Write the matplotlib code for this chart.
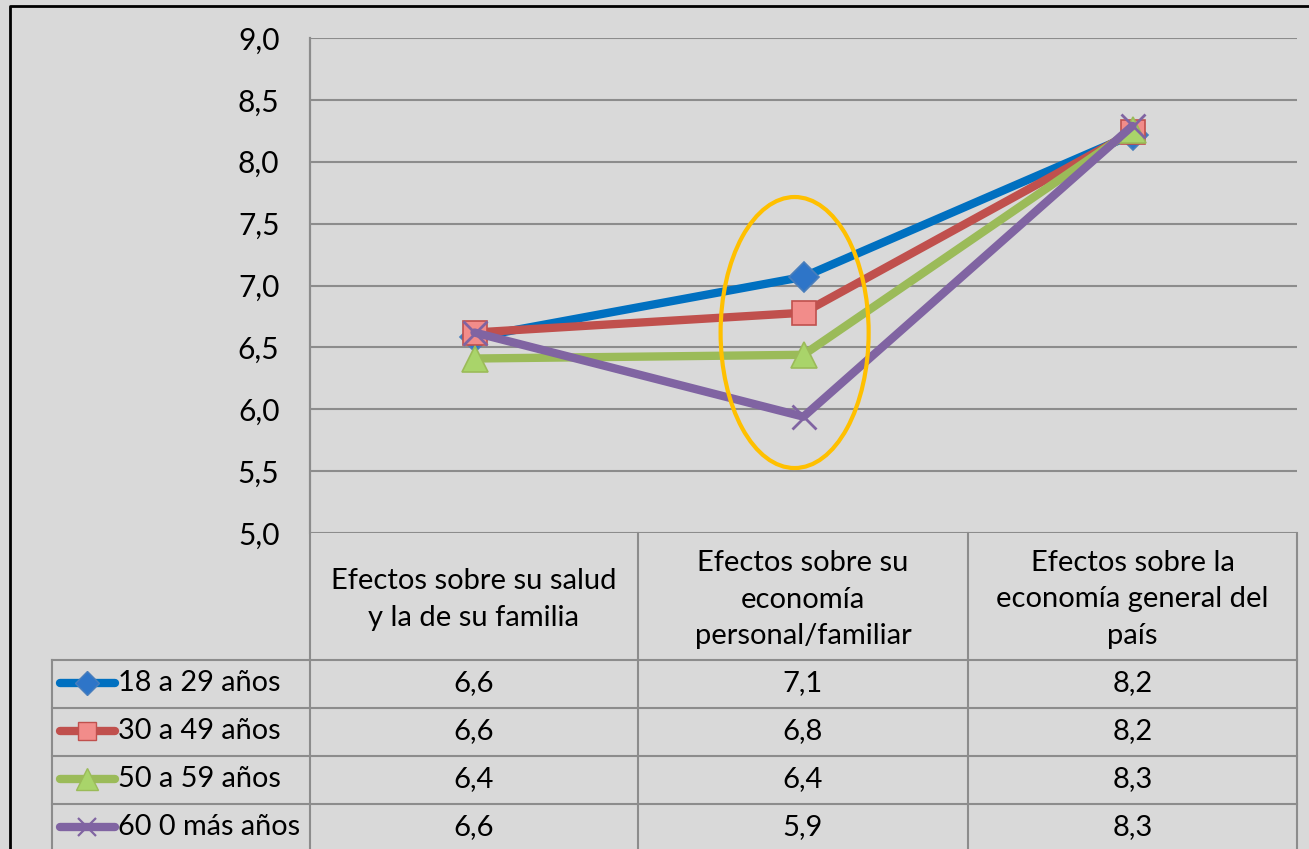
import matplotlib.pyplot as plt
from matplotlib.patches import Ellipse
from matplotlib.lines import Line2D

# categories (table header) and series values
categories = [
    "Efectos sobre su salud\ny la de su familia",
    "Efectos sobre su\neconomía\npersonal/familiar",
    "Efectos sobre la\neconomía general del\npaís",
]
series_names = ["18 a 29 años", "30 a 49 años", "50 a 59 años", "60 0 más años"]
values_18_29 = [6.58, 7.07, 8.22]
values_30_49 = [6.62, 6.78, 8.24]
values_50_59 = [6.41, 6.44, 8.26]
values_60_mas = [6.62, 5.94, 8.29]
y_ticks = [5.0, 5.5, 6.0, 6.5, 7.0, 7.5, 8.0, 8.5, 9.0]

all_values = [values_18_29, values_30_49, values_50_59, values_60_mas]

BG = "#d9d9d9"
GRID = "#8c8c8c"
FONT = "Lato"

styles = [
    dict(color="#0070c0", marker="D", ms=15, mfc="#2e75c8", mec="#4a7ebb"),
    dict(color="#c0504d", marker="s", ms=17, mfc="#f28c8a", mec="#c0504d"),
    dict(color="#9bbb59", marker="^", ms=19, mfc="#a9d46a", mec="#9bbb59"),
    dict(color="#8064a2", marker="x", ms=17, mfc="#8064a2", mec="#8064a2"),
]


def comma(v):
    return f"{v:.1f}".replace(".", ",")


def main():
    fig = plt.figure(figsize=(13.09, 8.49), dpi=100)
    fig.patch.set_facecolor(BG)

    W, H = 1309, 849
    left, right, top, bottom = 310, 1297, 38, 533
    ax = fig.add_axes([left / W, 1 - bottom / H, (right - left) / W, (bottom - top) / H])
    ax.set_facecolor(BG)

    x = list(range(len(categories)))
    for vals, st in zip(all_values, styles):
        ax.plot(x, vals, color=st["color"], lw=6, marker=st["marker"],
                ms=st["ms"], mfc=st["mfc"], mec=st["mec"],
                mew=2.0 if st["marker"] == "x" else 1.2,
                solid_joinstyle="round", solid_capstyle="round", zorder=3,
                clip_on=False)

    ax.set_xlim(-0.5, len(categories) - 0.5)
    ax.set_ylim(5.0, 9.0)
    ax.set_yticks(y_ticks)
    ax.set_yticklabels([comma(t) for t in y_ticks], fontsize=21.5, fontfamily=FONT)
    ax.tick_params(axis="y", length=0, pad=22)
    ax.set_xticks([])
    ax.grid(axis="y", color=GRID, lw=1.5)
    ax.set_axisbelow(True)
    for s in ["top", "right", "bottom"]:
        ax.spines[s].set_visible(False)
    ax.spines["left"].set_color(GRID)
    ax.spines["left"].set_linewidth(1.5)

    # orange highlight ellipse around the middle category
    ax.add_patch(Ellipse((0.973, 6.62), 0.45, 2.19, fill=False,
                         edgecolor="#ffc000", lw=3, zorder=4, clip_on=False))

    # overlay in pixel coords for the data table and frame
    ov = fig.add_axes([0, 0, 1, 1])
    ov.set_xlim(0, W)
    ov.set_ylim(H, 0)
    ov.axis("off")
    ov.patch.set_alpha(0)

    col_edges = [310, 638, 968, 1297]
    header_top, header_bottom = 533, 660
    row_edges = [660, 708, 756, 804, 852]
    legend_left = 52
    lk = dict(color=GRID, lw=1.5, zorder=1)

    ov.plot([col_edges[0], col_edges[0]], [top, H], **lk)
    for cx in col_edges[1:]:
        ov.plot([cx, cx], [header_top, H], **lk)
    ov.plot([legend_left, legend_left], [header_bottom, H], **lk)
    for ry in row_edges[:-1]:
        ov.plot([legend_left, col_edges[-1]], [ry, ry], **lk)

    for i, cat in enumerate(categories):
        cx = (col_edges[i] + col_edges[i + 1]) / 2
        ov.text(cx, (header_top + header_bottom) / 2 + 3, cat, ha="center", va="center",
                fontsize=21, fontfamily=FONT, linespacing=1.52)

    for r, (name, vals, st) in enumerate(zip(series_names, all_values, styles)):
        cy = (row_edges[r] + row_edges[r + 1]) / 2 - 1
        ov.add_line(Line2D([60, 115], [cy, cy], color=st["color"], lw=6,
                           solid_capstyle="round"))
        ov.add_line(Line2D([87], [cy], marker=st["marker"], ms=st["ms"] * 0.8,
                           mfc=st["mfc"], mec=st["mec"],
                           mew=1.6 if st["marker"] == "x" else 1.0, ls="none"))
        ov.text(118, cy, name, ha="left", va="center", fontsize=20.8, fontfamily=FONT)
        for i, v in enumerate(vals):
            cx = (col_edges[i] + col_edges[i + 1]) / 2
            ov.text(cx, cy, comma(v), ha="center", va="center", fontsize=21,
                    fontfamily=FONT)

    # outer black frame (left and top edges visible)
    ov.plot([10, 10, W + 5], [H + 5, 6, 6], color="black", lw=2, zorder=5)

    fig.savefig("out.png", dpi=100, facecolor=BG)
    plt.close(fig)


if __name__ == "__main__":
    main()
